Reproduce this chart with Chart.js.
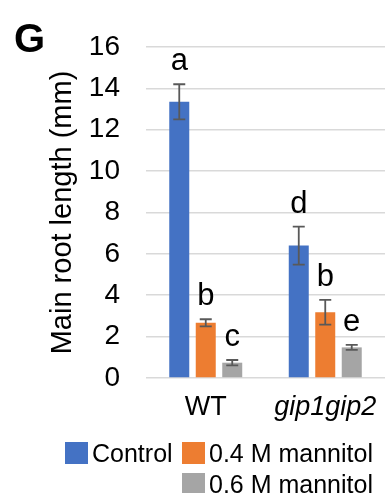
<!DOCTYPE html>
<html>
<head>
<meta charset="utf-8">
<script src="https://cdn.jsdelivr.net/npm/chart.js@4.4.1/dist/chart.umd.min.js"></script>
<style>
  body { margin: 0; background: #fff; overflow: hidden; }
  #wrap { position: relative; width: 389px; height: 493px; }
  #chart { position: absolute; left: 0; top: 0; }
  #legend { font-family: 'Liberation Sans', Arial, sans-serif; font-size: 25px; color: #000; }
  .item { position: absolute; display: flex; align-items: center; height: 22px; white-space: nowrap; }
  .box { width: 23px; height: 22px; margin-right: 4px; }
</style>
</head>
<body>
<div id="wrap">
  <canvas id="chart" width="389" height="440"></canvas>
  <div id="legend"></div>
</div>
<script>
// data (mm)
const groups = ['WT', 'gip1gip2'];
const seriesNames = ['Control', '0.4 M mannitol', '0.6 M mannitol'];
const seriesColors = ['#4472C4', '#ED7D31', '#A5A5A5'];
const controlMeans = [13.35, 6.4];
const mannitol04Means = [2.67, 3.18];
const mannitol06Means = [0.74, 1.48];
const controlErr = [0.85, 0.92];
const mannitol04Err = [0.17, 0.6];
const mannitol06Err = [0.13, 0.12];
const controlLetters = ['a', 'd'];
const mannitol04Letters = ['b', 'b'];
const mannitol06Letters = ['c', 'e'];
const yTicks = [0, 2, 4, 6, 8, 10, 12, 14, 16];

const means = [controlMeans, mannitol04Means, mannitol06Means];
const errs = [controlErr, mannitol04Err, mannitol06Err];
const letters = [controlLetters, mannitol04Letters, mannitol06Letters];

const FONT = "'Liberation Sans', Arial, sans-serif";

// error bars + significance letters
const annotate = {
	id: 'annotate',
	afterDatasetsDraw(chart) {
		const ctx = chart.ctx;
		const y = chart.scales.y;
		ctx.save();
		means.forEach((vals, i) => {
			const meta = chart.getDatasetMeta(i);
			vals.forEach((v, j) => {
				const x = meta.data[j].x;
				const top = y.getPixelForValue(v + errs[i][j]);
				const bot = y.getPixelForValue(v - errs[i][j]);
				ctx.strokeStyle = '#595959';
				ctx.lineWidth = 1.8;
				ctx.beginPath();
				ctx.moveTo(x, top); ctx.lineTo(x, bot);
				ctx.moveTo(x - 6, top); ctx.lineTo(x + 6, top);
				ctx.moveTo(x - 6, bot); ctx.lineTo(x + 6, bot);
				ctx.stroke();
				ctx.fillStyle = '#000';
				ctx.font = '31px ' + FONT;
				ctx.textAlign = 'center';
				ctx.textBaseline = 'alphabetic';
				ctx.fillText(letters[i][j], x, top - 14);
			});
		});
		// panel letter
		ctx.font = 'bold 40px ' + FONT;
		ctx.textAlign = 'left';
		ctx.fillText('G', 14, 52);
		ctx.restore();
	}
};

new Chart(document.getElementById('chart'), {
	type: 'bar',
	data: {
		labels: groups,
		datasets: seriesNames.map((name, i) => ({
			label: name,
			data: means[i],
			backgroundColor: seriesColors[i],
			categoryPercentage: 0.665,
			barPercentage: 0.755
		}))
	},
	options: {
		responsive: false,
		animation: false,
		layout: {
			padding: { top: 47, right: 4, bottom: 18, left: 0 }
		},
		plugins: {
			legend: { display: false },
			tooltip: { enabled: false }
		},
		scales: {
			x: {
				grid: { display: false },
				border: { display: false },
				ticks: {
					color: '#000',
					padding: 5,
					font: (c) => ({ family: FONT, size: 27, style: c.index === 1 ? 'italic' : 'normal' })
				},
				afterFit: (s) => { s.height = 44; }
			},
			y: {
				min: 0,
				max: 16,
				afterBuildTicks: (s) => { s.ticks = yTicks.map(v => ({ value: v })); },
				grid: { color: '#D9D9D9', lineWidth: 1.6, drawTicks: false },
				border: { display: false },
				ticks: {
					color: '#000',
					padding: 26,
					font: { family: FONT, size: 28 }
				},
				title: {
					display: true,
					text: 'Main root length (mm)',
					color: '#000',
					font: { family: FONT, size: 29 },
					padding: { top: 46, bottom: 0 }
				},
				afterFit: (s) => { s.width = 146; }
			}
		}
	},
	plugins: [annotate]
});

// legend laid out like the Excel one (third entry wraps under the second)
const legendSpots = [[65, 442], [182, 442], [182, 473]];
const legend = document.getElementById('legend');
seriesNames.forEach((name, i) => {
	const item = document.createElement('div');
	item.className = 'item';
	item.style.left = legendSpots[i][0] + 'px';
	item.style.top = legendSpots[i][1] + 'px';
	item.innerHTML = '<span class="box" style="background:' + seriesColors[i] + '"></span><span>' + name + '</span>';
	legend.appendChild(item);
});
</script>
</body>
</html>
